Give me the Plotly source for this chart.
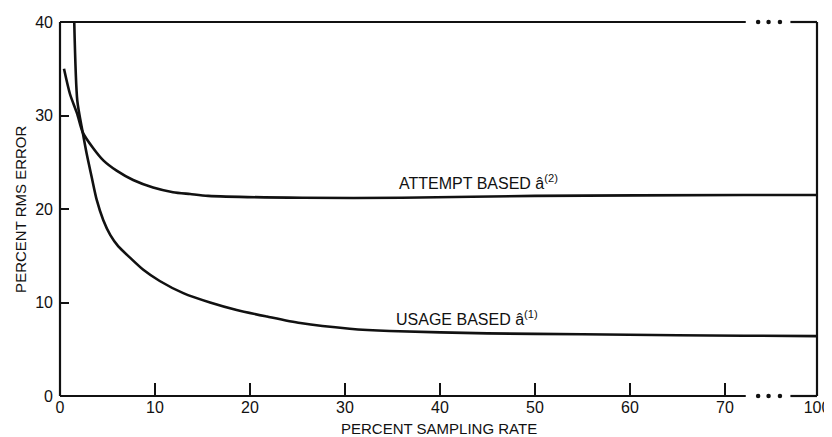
import plotly.graph_objects as go

# ---- data ----
usage_x = [1.5, 1.82, 2.39, 2.81, 3.34, 3.86, 4.56, 5.3, 6.14, 7.37, 8.77, 10.5, 12.98, 15.8, 18.6, 21.8, 25.3, 30.5, 34.7, 45, 55, 65, 72, 100]
usage_y = [40.0, 31.6, 28.2, 25.9, 23.4, 21.0, 18.8, 17.2, 16.0, 14.8, 13.5, 12.3, 11.0, 10.0, 9.2, 8.5, 7.8, 7.2, 6.95, 6.7, 6.6, 6.5, 6.45, 6.4]

attempt_x = [0.42, 1.05, 1.8, 2.39, 3.5, 4.56, 5.96, 7.7, 9.8, 11.9, 13.7, 15.6, 25.5, 36, 50, 72, 100]
attempt_y = [35.0, 32.3, 30.2, 28.2, 26.5, 25.2, 24.1, 23.1, 22.3, 21.8, 21.6, 21.4, 21.2, 21.2, 21.4, 21.5, 21.5]

x_tick_values = [0, 10, 20, 30, 40, 50, 60, 70, 100]
x_tick_labels = ["0", "10", "20", "30", "40", "50", "60", "70", "100"]
y_tick_values = [0, 10, 20, 30, 40]

usage_label = "USAGE BASED â<sup>(1)</sup>"
attempt_label = "ATTEMPT BASED â<sup>(2)</sup>"
x_title = "PERCENT SAMPLING RATE"
y_title = "PERCENT RMS ERROR"

# ---- broken x-axis mapping (72 .. 100 compressed) ----
X_MAX = 100.0
BREAK_AT = 72.2
DISP_END = 79.7
GAP_END = 76.9
DOTS = [73.5, 74.6, 75.8]


def disp(x):
    if x <= BREAK_AT:
        return x
    return BREAK_AT + (x - BREAK_AT) * (DISP_END - BREAK_AT) / (X_MAX - BREAK_AT)


FONT = "Liberation Sans, Arial, Helvetica, sans-serif"
INK = "#111111"

fig = go.Figure()
fig.add_trace(go.Scatter(x=[disp(v) for v in usage_x], y=usage_y, mode="lines",
                         line=dict(color=INK, width=2.6, shape="spline", smoothing=0.7),
                         showlegend=False, hoverinfo="skip"))
fig.add_trace(go.Scatter(x=[disp(v) for v in attempt_x], y=attempt_y, mode="lines",
                         line=dict(color=INK, width=2.6, shape="spline", smoothing=0.7),
                         showlegend=False, hoverinfo="skip"))

# break dots on top and bottom frame lines
for yv in (0, 40):
    fig.add_trace(go.Scatter(x=DOTS, y=[yv] * len(DOTS), mode="markers",
                             marker=dict(color=INK, size=4.5), cliponaxis=False,
                             showlegend=False, hoverinfo="skip"))

# frame lines (paper coords so they are not clipped)
f_break = BREAK_AT / DISP_END
f_resume = GAP_END / DISP_END
lw = 2.2
shapes = [
    dict(type="line", xref="paper", yref="paper", x0=0, x1=0, y0=0, y1=1),
    dict(type="line", xref="paper", yref="paper", x0=1, x1=1, y0=0, y1=1),
    dict(type="line", xref="paper", yref="paper", x0=0, x1=f_break, y0=1, y1=1),
    dict(type="line", xref="paper", yref="paper", x0=f_resume, x1=1, y0=1, y1=1),
    dict(type="line", xref="paper", yref="paper", x0=0, x1=f_break, y0=0, y1=0),
    dict(type="line", xref="paper", yref="paper", x0=f_resume, x1=1, y0=0, y1=0),
]
for s in shapes:
    s["line"] = dict(color=INK, width=lw)

annotations = [
    dict(x=35.2, y=8.3, xref="x", yref="y", text=usage_label, showarrow=False,
         xanchor="left", yanchor="middle", font=dict(family=FONT, size=16, color=INK)),
    dict(x=35.5, y=22.9, xref="x", yref="y", text=attempt_label, showarrow=False,
         xanchor="left", yanchor="middle", font=dict(family=FONT, size=16, color=INK)),
    dict(x=0.5, y=-0.087, xref="paper", yref="paper", text=x_title, showarrow=False,
         xanchor="center", yanchor="middle", font=dict(family=FONT, size=15, color=INK)),
    dict(x=-0.053, y=0.5, xref="paper", yref="paper", text=y_title, showarrow=False,
         textangle=-90, xanchor="center", yanchor="middle",
         font=dict(family=FONT, size=15, color=INK)),
]

# page body has an 8px default margin: size the figure so the plot area lands
# where the reference has it
fig.update_layout(
    width=824, height=429,
    margin=dict(l=52, r=15, t=14, b=41),
    paper_bgcolor="white", plot_bgcolor="white",
    shapes=shapes, annotations=annotations,
    font=dict(family=FONT, color=INK),
    xaxis=dict(range=[0, DISP_END], tickmode="array", automargin=False,
               tickvals=[disp(v) for v in x_tick_values], ticktext=x_tick_labels,
               ticks="inside", ticklen=13, tickwidth=2, tickcolor=INK,
               showgrid=False, zeroline=False, showline=False,
               tickfont=dict(family=FONT, size=16, color=INK), fixedrange=True),
    yaxis=dict(range=[0, 40], tickmode="array", tickvals=y_tick_values, automargin=False,
               ticks="inside", ticklen=9, tickwidth=2, tickcolor=INK,
               ticklabelstandoff=6,
               showgrid=False, zeroline=False, showline=False,
               tickfont=dict(family=FONT, size=16, color=INK), fixedrange=True),
)

fig.write_html("out.html")
